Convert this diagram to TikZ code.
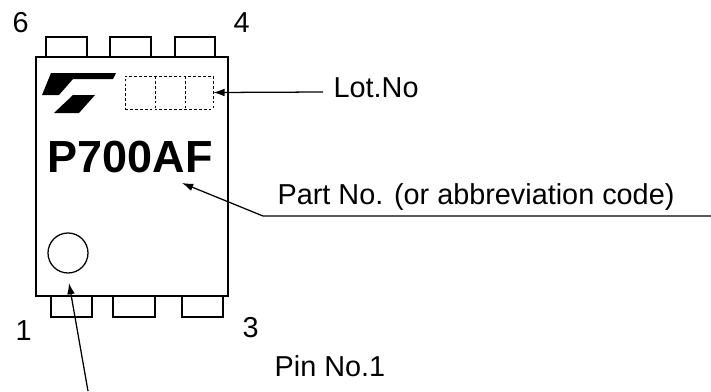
\documentclass[tikz,border=0pt]{standalone}
\usepackage{fontspec}
\setmainfont{Liberation Sans}
\usetikzlibrary{arrows.meta,positioning,scopes}

\begin{document}
\begin{tikzpicture}[x=0.025cm,y=-0.025cm,line width=.9pt,
    txt/.style={font=\fontsize{20.5}{24}\selectfont,inner sep=0pt,anchor=base west},
    lead/.style={-{Latex[length=8pt,width=5.5pt]}},
    heavy/.style={line width=2.1pt}]
    \useasboundingbox (0,0) rectangle (711,391);

    % leads, top and bottom row
    \foreach \a/\b in {46/87,110/151,175/215}
      \draw[heavy] (\a,57)--(\a,37)--(\b,37)--(\b,57);
    \foreach \a/\b in {51/92,113/155,182/223}
      \draw[heavy] (\a,296)--(\a,317)--(\b,317)--(\b,296);
    \draw[heavy,fill=white] (36,57) rectangle (228,296);

    % logo
    \fill (51,73)--(116,73)--(113,79)--(73,79)--(59,95)--(42,95)--cycle;
    \fill (73,95)--(95,95)--(79,113)--(54,113)--cycle;

    {[line width=.5pt,dash pattern=on 2pt off 1.5pt]
      \node[draw,minimum width=88*0.025cm,minimum height=33*0.025cm,inner sep=0] (lot) at (169,92.5) {};
      \draw (155,76)--(155,109);
      \draw (185,76)--(185,109);
    }

    \node[inner sep=0,anchor=base west,font=\fontsize{32}{36}\selectfont\bfseries] (code) at (47,172) {P700AF};
    \node[circle,draw,minimum size=40*0.025cm,inner sep=0] (dot) at (68,253) {};

    \node[txt] (n6) at (12,32) {6};
    \node[txt] (n4) at (233,32) {4};
    \node[txt] (n1) at (15,340) {1};
    \node[txt] (n3) at (242,337) {3};

    \node[txt] (lotno) at (333,97) {Lot.No};
    \node[txt] (partno) at (277,204) {Part No. (or abbreviation code)};
    \node[txt] (pinno) at (274,376) {Pin No.1};

    \coordinate (lotend) at (323,92);
    \coordinate (rim) at (711,216);
    \coordinate (knee) at (263,216);
    \coordinate (codetip) at (182,183);
    \coordinate (pinfoot) at (88,391);
    \coordinate (dottip) at (69,283);

    \draw[lead] (lotend) -- (lot.east);
    \draw[lead] (rim) -- (knee) -- (codetip);
    \draw[lead] (pinfoot) -- (dottip);
\end{tikzpicture}
\end{document}
